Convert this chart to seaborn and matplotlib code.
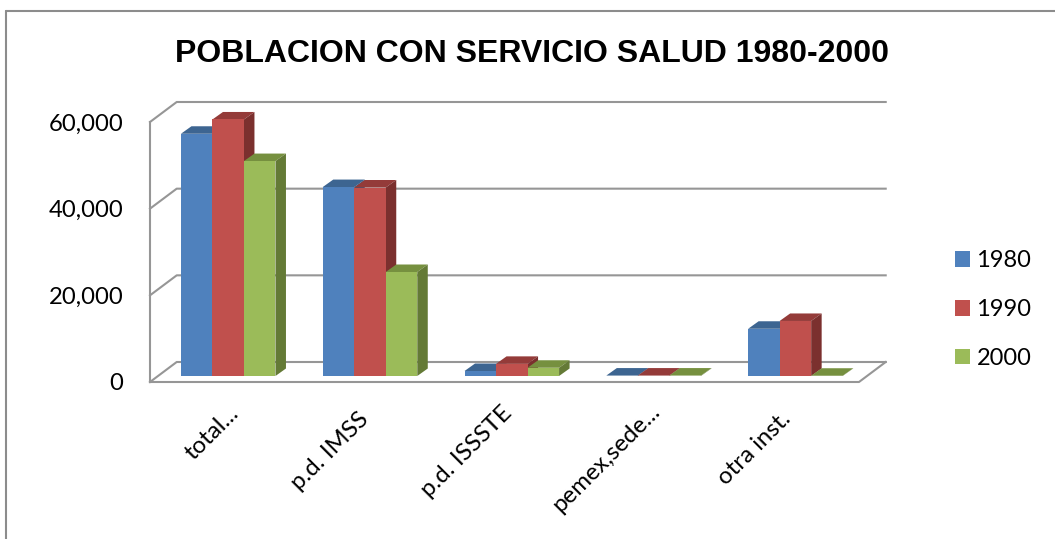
import matplotlib
matplotlib.use("Agg")
import matplotlib.pyplot as plt
import pandas as pd
import seaborn as sns
from matplotlib.lines import Line2D
from matplotlib.patches import Polygon
from matplotlib.transforms import Affine2D

categories = ["total...", "p.d. IMSS", "p.d. ISSSTE", "pemex,sede...", "otra inst."]
years = ["1980", "1990", "2000"]
v1980 = [55900, 43600, 1150, 100, 10900]
v1990 = [59200, 43500, 2800, 100, 12700]
v2000 = [49600, 24000, 1900, 100, 60]
y_ticks = [0, 20000, 40000, 60000]

W, H = 1055, 539
FRONT = ["#4F81BD", "#C0504D", "#9BBB59"]
TOPS = ["#3D6591", "#943B39", "#76903F"]
SIDES = ["#355880", "#7B302E", "#647A36"]
GRID = "#969696"
FONT = "Lato"

df = pd.DataFrame({
    "cat": categories * 3,
    "year": [y for y in years for _ in categories],
    "val": v1980 + v1990 + v2000,
})

sns.set_theme(style="white")
plt.rcParams["font.family"] = [FONT, "DejaVu Sans"]
fig = plt.figure(figsize=(W / 100, H / 100), dpi=100, facecolor="white")


def box(x0, x1, y_bottom, y_top):
    return [x0 / W, 1 - y_bottom / H, (x1 - x0) / W, (y_bottom - y_top) / H]


# front plane of the floor: ticks, labels, wall lines
axf = fig.add_axes(box(150, 859, 382, 122), zorder=1)
axf.patch.set_visible(False)
axf.set_xlim(-0.5, 4.5)
axf.set_ylim(0, 60000)
for s in axf.spines.values():
    s.set_visible(False)
axf.set_yticks(y_ticks, [f"{t:,}" for t in y_ticks])
axf.set_xticks(range(5), categories)
axf.tick_params(axis="y", length=0, pad=19, labelsize=17.2, colors="black")
axf.tick_params(axis="x", length=0, pad=0, labelsize=17.3, colors="black")

wall_dx = 26.7 / 709 * 5
wall_dy = 20 / 260 * 60000
lk = dict(color=GRID, lw=1.5, clip_on=False, solid_capstyle="projecting")
for t in y_ticks:
    axf.plot([-0.5, -0.5 + wall_dx, 4.5 + wall_dx], [t, t + wall_dy, t + wall_dy], **lk)
axf.plot([-0.5, -0.5], [0, 60000], **lk)
axf.plot([-0.5, 4.5, 4.5 + wall_dx], [0, 0, wall_dy], **lk)

# x labels sit off their ticks in the original
label_centres = [(212, 433), (330, 451), (467, 452), (606, 458), (754, 448)]
for i, (lab, (cx, cy)) in enumerate(zip(axf.get_xticklabels(), label_centres)):
    tick_px = 150 + (i + 0.5) * 141.8
    lab.set_rotation(45)
    lab.set_rotation_mode("anchor")
    lab.set_ha("center")
    lab.set_va("center")
    lab.set_transform(lab.get_transform() + Affine2D().translate(cx - tick_px, -(cy - 382)))

# bar plane
ax = fig.add_axes(box(157.3, 866.3, 376, 116), zorder=2)
ax.patch.set_visible(False)
sns.barplot(data=df, x="cat", y="val", hue="year", order=categories, hue_order=years,
            palette=FRONT, saturation=1, width=2 / 3, gap=0, linewidth=0, ax=ax)
ax.set_xlim(-0.5, 4.5)
ax.set_ylim(0, 60000)
ax.set_xlabel("")
ax.set_ylabel("")
ax.set_xticks([])
ax.set_yticks([])
for s in ax.spines.values():
    s.set_visible(False)

bar_dx = 10.5 / 709 * 5
bar_dy = 7.5 / 260 * 60000
bars = []
for k, cont in enumerate(ax.containers[:3]):
    for b in cont:
        bars.append((b.get_x(), k, b))
bars.sort(key=lambda r: r[0])
for n, (x, k, b) in enumerate(bars):
    w, h = b.get_width(), b.get_height()
    z = 3 + n * 3
    ax.add_patch(Polygon([(x, h), (x + w, h), (x + w + bar_dx, h + bar_dy), (x + bar_dx, h + bar_dy)],
                         closed=True, fc=TOPS[k], ec="none", zorder=z, clip_on=False))
    ax.add_patch(Polygon([(x + w, 0), (x + w + bar_dx, bar_dy), (x + w + bar_dx, h + bar_dy), (x + w, h)],
                         closed=True, fc=SIDES[k], ec="none", zorder=z + 1, clip_on=False))
    b.set_zorder(z + 2)
    b.set_clip_on(False)

handles, labels = ax.get_legend_handles_labels()
leg = ax.legend(handles, labels, loc="center left", bbox_to_anchor=(955 / W, 1 - 309.5 / H),
                bbox_transform=fig.transFigure, frameon=False, fontsize=17,
                handlelength=0.64, handleheight=0.64, handletextpad=0.27,
                labelspacing=1.17, borderpad=0, borderaxespad=0)
for t in leg.get_texts():
    t.set_color("black")

fig.suptitle("POBLACION CON SERVICIO SALUD 1980-2000", x=532 / W, y=1 - 53.5 / H,
             ha="center", va="center", fontsize=23.05, fontweight="bold",
             family="Liberation Sans", color="black")

# chart frame
frame = dict(color="#8C8C8C", lw=1.5, transform=fig.transFigure)
fig.add_artist(Line2D([6 / W, 6 / W], [0, 1 - 11 / H], **frame))
fig.add_artist(Line2D([6 / W, 1], [1 - 11 / H, 1 - 11 / H], **frame))

fig.savefig("out.png", dpi=100, facecolor="white")
